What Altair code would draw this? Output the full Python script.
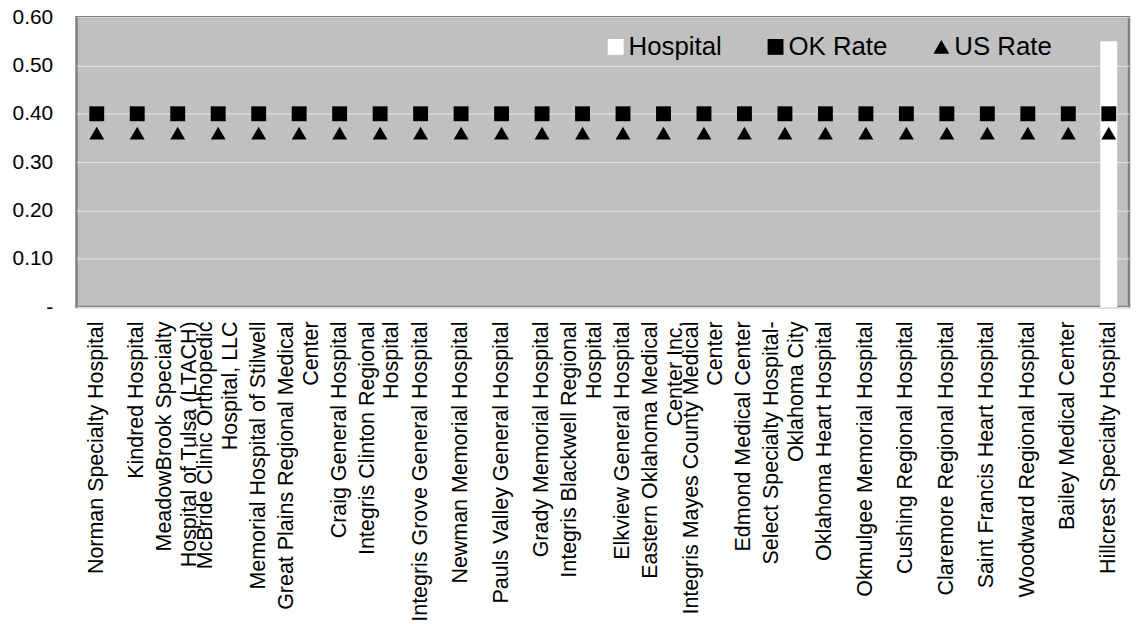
import altair as alt
import pandas as pd

# Category labels ("|" marks the line break used on the axis)
hospitals = [
    "Norman Specialty Hospital",
    "Kindred Hospital",
    "MeadowBrook Specialty|Hospital of Tulsa (LTACH)",
    "McBride Clinic Orthopedic|Hospital, LLC",
    "Memorial Hospital of Stilwell",
    "Great Plains Regional Medical|Center",
    "Craig General Hospital",
    "Integris Clinton Regional|Hospital",
    "Integris Grove General Hospital",
    "Newman Memorial Hospital",
    "Pauls Valley General Hospital",
    "Grady Memorial Hospital",
    "Integris Blackwell Regional|Hospital",
    "Elkview General Hospital",
    "Eastern Oklahoma Medical|Center Inc.",
    "Integris Mayes County Medical|Center",
    "Edmond Medical Center",
    "Select Specialty Hospital-|Oklahoma City",
    "Oklahoma Heart Hospital",
    "Okmulgee Memorial Hospital",
    "Cushing Regional Hospital",
    "Claremore Regional Hospital",
    "Saint Francis Heart Hospital",
    "Woodward Regional Hospital",
    "Bailey Medical Center",
    "Hillcrest Specialty Hospital",
]
hospital_rate = [None] * 25 + [0.55]
ok_rate = [0.40] * 26
us_rate = [0.36] * 26

series_names = ["Hospital", "OK Rate", "US Rate"]
y_ticks = [0, 0.1, 0.2, 0.3, 0.4, 0.5, 0.6]

bars = pd.DataFrame({"name": hospitals, "value": hospital_rate}).dropna()
pts = pd.concat([
    pd.DataFrame({"name": hospitals, "value": ok_rate, "series": "OK Rate"}),
    pd.DataFrame({"name": hospitals, "value": us_rate, "series": "US Rate"}),
])

FONT = "Liberation Sans"
LINE_H = 25

x_enc = alt.X(
    "name:N", sort=hospitals, title=None,
    scale=alt.Scale(paddingInner=0, paddingOuter=0),
    axis=alt.Axis(
        labelAngle=-90, labelAlign="right", labelBaseline="middle",
        labelExpr="split(datum.label, '|')", labelFontSize=21.6, labelFont=FONT,
        labelColor="black", labelLineHeight=LINE_H, labelPadding=14,
        labelOffset={"condition": {"test": "indexof(datum.label, '|') >= 0",
                                   "value": -LINE_H / 2},
                     "value": 0},
        ticks=False, domain=False, grid=False, labelLimit=0, labelOverlap=False,
    ),
)
y_scale = alt.Scale(domain=[0, 0.6], nice=False, zero=True)
y_axis = alt.Axis(
    values=y_ticks, ticks=False, domain=False, grid=True,
    gridColor="#e8e8e8", gridWidth=1,
    labelExpr="datum.value == 0 ? '-\u00a0\u00a0\u00a0' : format(datum.value, '.2f')",
    labelFontSize=21, labelFont=FONT, labelColor="black", labelPadding=24,
    minExtent=69, maxExtent=69,
)

bar_layer = alt.Chart(bars).mark_bar(size=17, color="white").encode(
    x=x_enc,
    y=alt.Y("value:Q", scale=y_scale, axis=y_axis, title=None),
)

point_layer = alt.Chart(pts).mark_point(filled=True, size=225, opacity=1).encode(
    x=x_enc,
    y=alt.Y("value:Q", scale=y_scale, title=None),
    color=alt.Color(
        "series:N",
        scale=alt.Scale(domain=series_names, range=["white", "black", "black"]),
        legend=alt.Legend(
            title=None, orient="none", legendX=530, legendY=17,
            direction="horizontal", labelFontSize=26, labelFont=FONT,
            labelColor="black", symbolSize=256, symbolStrokeWidth=0,
            columnPadding=41, labelOffset=0, padding=0, symbolOpacity=1,
        ),
    ),
    shape=alt.Shape(
        "series:N",
        scale=alt.Scale(domain=series_names, range=["square", "square", "triangle-up"]),
    ),
)

chart = (
    alt.layer(bar_layer, point_layer)
    .properties(
        width=1060, height=292,
        autosize=alt.AutoSizeParams(type="none"),
        padding={"left": 69, "top": 7, "right": 3, "bottom": 317},
    )
    .configure(font=FONT)
    .configure_view(fill="#c0c0c0", stroke="#808080", strokeWidth=2.5)
)

chart.save("out.html", embed_options={"renderer": "svg", "actions": False})
